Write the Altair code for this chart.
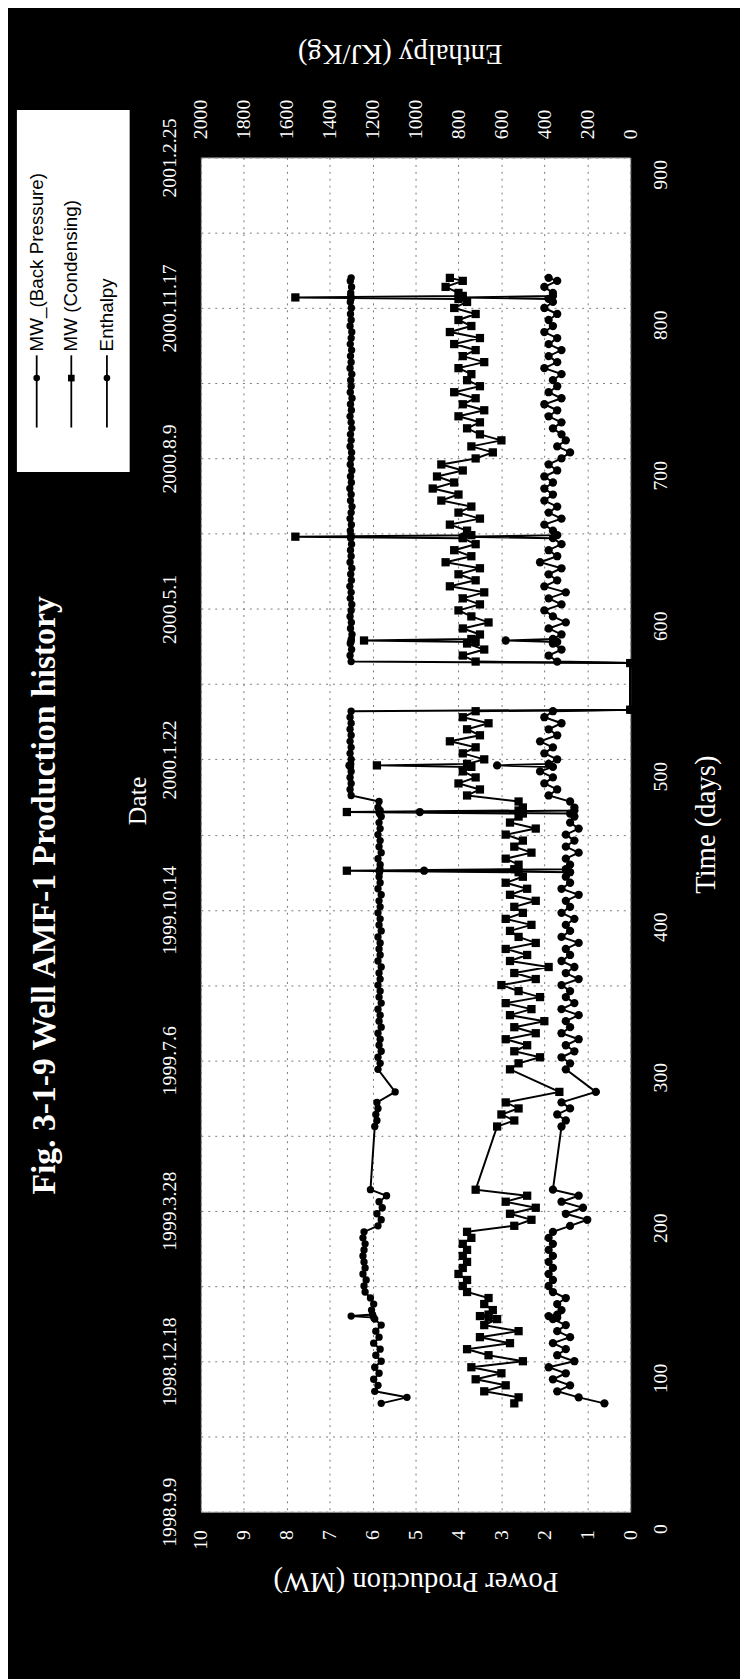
import json
import altair as alt
import pandas as pd

# ---------------- data ----------------
days = [
    72, 76, 80, 84, 88, 92, 96, 100, 104, 108,
    112, 116, 120, 124, 128, 129, 130, 131, 134, 138, 142, 146,
    150, 154, 158, 162, 166, 170, 174, 178, 182, 186,
    190, 194, 198, 202, 206, 210, 214,
    256, 260, 264, 268, 272, 279, 294, 298, 302, 306,
    310, 314, 318, 322, 326, 330, 334, 338, 342, 346,
    350, 354, 358, 362, 366, 370, 374, 378, 382, 386,
    390, 394, 398, 402, 406, 410, 414, 418, 422, 425, 426, 427,
    430, 434, 438, 442, 446, 450, 454, 458, 462, 464, 465, 466,
    468, 472, 476, 480, 484, 488, 492, 495, 496, 497, 500, 504,
    508, 512, 516, 520, 524, 528, 532,
    533, 564,
    565, 569, 573, 577, 578, 579, 580, 583, 587, 591, 595, 599,
    603, 607, 611, 615, 619, 623, 627, 631, 635, 639,
    643, 647, 648, 649, 652, 656, 660, 664, 668, 672, 676, 680,
    684, 688, 692, 696, 700, 704, 708, 712, 716, 720,
    724, 728, 732, 736, 740, 744, 748, 752, 756, 760,
    764, 768, 772, 776, 780, 784, 788, 792, 796, 800,
    804, 806, 807, 808, 810, 814, 818, 820,
]

mw_back = [
    0.6, 1.2, 1.7, 1.4, 1.8, 1.5, 1.9, 1.3, 1.7, 1.5,
    1.8, 1.4, 1.7, 1.5, 1.8, 1.7, 1.9, 1.7, 1.6, 1.7, 1.5, 1.8,
    1.9, 1.8, 1.9, 1.8, 1.9, 1.8, 1.9, 1.8, 1.9, 1.8,
    1.4, 1.0, 1.5, 1.1, 1.6, 1.2, 1.8,
    1.6, 1.5, 1.7, 1.4, 1.6, 0.8, 1.5, 1.4, 1.6, 1.3,
    1.5, 1.2, 1.6, 1.4, 1.5, 1.2, 1.6, 1.3, 1.5, 1.4,
    1.6, 1.2, 1.5, 1.3, 1.6, 1.4, 1.5, 1.2, 1.6, 1.4,
    1.5, 1.3, 1.6, 1.4, 1.5, 1.2, 1.6, 1.4, 1.5, 1.4, 4.8, 1.5,
    1.4, 1.5, 1.2, 1.5, 1.3, 1.5, 1.2, 1.4, 1.3, 1.4, 4.9, 1.3,
    1.3, 1.4, 1.9, 1.7, 2.0, 1.8, 2.1, 1.8, 3.1, 1.9, 1.7, 2.0,
    1.8, 2.1, 1.7, 1.9, 1.6, 2.0, 1.8,
    0.0, 0.0,
    1.7, 1.9, 1.6, 1.8, 1.7, 2.9, 1.8, 1.6, 1.9, 1.5, 1.8, 2.0,
    1.6, 1.9, 1.5, 2.0, 1.7, 1.9, 1.6, 2.1, 1.7, 1.9,
    1.6, 1.8, 3.9, 1.7, 1.8, 2.0, 1.6, 1.9, 1.7, 2.0, 1.8, 2.0,
    1.8, 2.0, 1.7, 1.9, 1.6, 1.4, 1.7, 1.5, 1.6, 1.8,
    1.6, 1.9, 1.7, 2.0, 1.6, 1.9, 1.7, 1.8, 1.6, 2.0,
    1.7, 1.9, 1.6, 1.9, 1.7, 2.0, 1.8, 1.9, 1.7, 2.0,
    1.8, 1.9, 3.9, 1.8, 1.8, 2.0, 1.7, 1.9,
]

mw_cond = [
    2.7, 2.6, 3.4, 2.9, 3.6, 3.0, 3.7, 2.5, 3.3, 3.8,
    2.8, 3.5, 2.6, 3.4, 3.1, 3.3, 3.5, 3.3, 3.2, 3.4, 3.3, 3.8,
    3.9, 3.8, 4.0, 3.9, 3.8, 3.9, 3.8, 3.9, 3.7, 3.8,
    2.7, 2.3, 2.8, 2.2, 2.9, 2.4, 3.6,
    3.1, 2.7, 3.0, 2.6, 2.9, 1.65, 2.8, 2.6, 2.1, 2.7,
    2.4, 2.9, 2.2, 2.7, 2.0, 2.8, 2.3, 2.9, 2.1, 2.6,
    3.0, 2.2, 2.7, 1.9, 2.8, 2.4, 2.9, 2.2, 2.6, 2.8,
    2.3, 2.9, 2.5, 2.7, 2.2, 2.8, 2.4, 2.9, 2.5, 2.6, 6.6, 2.7,
    2.6, 2.9, 2.3, 2.7, 2.5, 2.9, 2.2, 2.8, 2.6, 2.5, 6.6, 2.6,
    2.5, 2.6, 3.8, 3.5, 4.0, 3.6, 3.9, 3.7, 5.9, 3.8, 3.4, 3.9,
    3.6, 4.2, 3.5, 3.8, 3.3, 3.9, 3.6,
    0.0, 0.0,
    3.6, 3.9, 3.4, 3.8, 3.6, 6.2, 3.7, 3.5, 3.9, 3.3, 3.7, 4.0,
    3.5, 3.9, 3.4, 4.2, 3.6, 4.0, 3.5, 4.3, 3.7, 4.1,
    3.6, 3.9, 7.8, 3.7, 3.8, 4.2, 3.5, 4.0, 3.7, 4.4, 4.0, 4.6,
    4.1, 4.5, 3.9, 4.4, 3.6, 3.2, 3.7, 3.0, 3.5, 3.8,
    3.5, 4.0, 3.4, 3.9, 3.6, 4.1, 3.5, 3.8, 3.7, 4.0,
    3.4, 3.9, 3.6, 4.1, 3.5, 4.2, 3.7, 4.0, 3.6, 4.1,
    3.8, 4.0, 7.8, 3.9, 4.0, 4.3, 3.9, 4.2,
]

enthalpy = [
    1160, 1040, 1190, 1175, 1195, 1170, 1190, 1160, 1185, 1165,
    1195, 1170, 1185, 1160, 1190, 1195, 1300, 1200, 1205, 1195, 1210, 1235,
    1240, 1230, 1245, 1235, 1240, 1245, 1240, 1235, 1245, 1240,
    1175, 1160, 1180, 1155, 1170, 1135, 1210,
    1190, 1180, 1185, 1175, 1180, 1095, 1175, 1165, 1175, 1160,
    1170, 1165, 1175, 1160, 1170, 1165, 1175, 1160, 1170, 1165,
    1175, 1165, 1170, 1160, 1175, 1165, 1170, 1165, 1175, 1160,
    1170, 1165, 1175, 1165, 1170, 1160, 1175, 1165, 1170, 1168, 1170, 1166,
    1165, 1175, 1160, 1170, 1165, 1175, 1165, 1170, 1160, 1168, 1170, 1165,
    1175, 1170, 1300, 1305, 1300, 1305, 1300, 1303, 1310, 1302, 1300, 1305,
    1300, 1305, 1300, 1305, 1300, 1305, 1300,
    0, 0,
    1300, 1305, 1298, 1304, 1301, 1300, 1299, 1296, 1303, 1299, 1305, 1300,
    1297, 1304, 1300, 1306, 1299, 1302, 1297, 1305, 1300, 1303,
    1298, 1302, 1300, 1301, 1304, 1299, 1305, 1300, 1296, 1303, 1300, 1306,
    1299, 1303, 1297, 1304, 1300, 1298, 1305, 1300, 1303, 1297,
    1300, 1305, 1299, 1303, 1296, 1304, 1300, 1302, 1297, 1305,
    1300, 1303, 1298, 1304, 1300, 1297, 1305, 1300, 1303, 1299,
    1304, 1301, 1300, 1302, 1302, 1298, 1304, 1300,
]

date_labels = ["1998.9.9", "1998.12.18", "1999.3.28", "1999.7.6", "1999.10.14",
               "2000.1.22", "2000.5.1", "2000.8.9", "2000.11.17", "2001.2.25"]
date_ticks = [0, 100, 200, 300, 400, 500, 600, 700, 800, 900]
day_grid = [0, 50, 100, 150, 200, 250, 300, 350, 400, 450,
            500, 550, 600, 650, 700, 750, 800, 850, 900]
mw_ticks = [0, 1, 2, 3, 4, 5, 6, 7, 8, 9, 10]
enth_ticks = [0, 200, 400, 600, 800, 1000, 1200, 1400, 1600, 1800, 2000]
series_names = ["MW_(Back Pressure)", "MW (Condensing)", "Enthalpy"]
chart_title = "Fig. 3-1-9 Well AMF-1 Production history"

for name, arr in [("mw_back", mw_back), ("mw_cond", mw_cond), ("enthalpy", enthalpy)]:
    if len(arr) != len(days):
        raise ValueError(f"{name} has {len(arr)} values, days has {len(days)}")

# ---------------- layout ----------------
W, H = 434, 1369
SERIF = "Liberation Serif"
SANS = "Liberation Sans"

mw_df = pd.DataFrame({
    "day": days + days,
    "mw": mw_back + mw_cond,
    "series": [series_names[0]] * len(days) + [series_names[1]] * len(days),
})
en_df = pd.DataFrame({"day": days, "enthalpy": enthalpy})

x_mw = alt.X(
    "mw:Q",
    scale=alt.Scale(domain=[0, 10], reverse=True, nice=False, zero=False),
    axis=alt.Axis(orient="bottom", values=mw_ticks, grid=True, title="Power Production (MW)",
                  labelAngle=270, labelAlign="right", labelBaseline="middle", labelPadding=18,
                  titleAngle=180, titleX=W / 2, titleY=70, titleAlign="center",
                  titleBaseline="middle"),
)
y_time = alt.Y(
    "day:Q",
    scale=alt.Scale(domain=[0, 900], nice=False, zero=False),
    axis=alt.Axis(orient="right", values=day_grid, grid=True, title="Time (days)",
                  labelExpr="datum.value % 100 == 0 ? datum.label : ''",
                  labelAngle=270, labelAlign="center", labelBaseline="middle",
                  labelPadding=31, labelOffset=17,
                  titleAngle=270, titleX=76, titleY=674, titleAlign="center",
                  titleBaseline="middle"),
)
x_en = alt.X(
    "enthalpy:Q",
    scale=alt.Scale(domain=[0, 2000], reverse=True, nice=False, zero=False),
    axis=alt.Axis(orient="top", values=enth_ticks, grid=False, title="Enthalpy (KJ/Kg)",
                  format="d",
                  labelAngle=270, labelAlign="left", labelBaseline="middle", labelPadding=19,
                  titleAngle=180, titleX=201, titleY=-105, titleAlign="center",
                  titleBaseline="middle"),
)
date_expr = ("datum.value % 100 == 0 ? " + json.dumps(date_labels)
             + "[round(datum.value / 100)] : ''")
y_date = alt.Y(
    "day:Q",
    scale=alt.Scale(domain=[0, 900], nice=False, zero=False),
    axis=alt.Axis(orient="left", values=date_ticks, grid=False, title="Date",
                  labelExpr=date_expr, labelAngle=270, labelAlign="center",
                  labelBaseline="middle", labelPadding=32,
                  titleAngle=270, titleX=-64, titleY=650, titleAlign="center",
                  titleBaseline="middle", titleFontSize=26),
)

mw_line = alt.Chart(mw_df).mark_line(color="black", strokeWidth=2).encode(
    x=x_mw, y=y_time, detail="series:N", order="day:Q")
mw_pts = alt.Chart(mw_df).mark_point(filled=True, color="black", size=70, opacity=1).encode(
    x=x_mw, y=y_time,
    shape=alt.Shape("series:N", scale=alt.Scale(domain=series_names[:2],
                                                 range=["circle", "square"]), legend=None))
mw_layer = alt.layer(mw_line, mw_pts)

en_line = alt.Chart(en_df).mark_line(color="black", strokeWidth=2).encode(
    x=x_en, y=y_date, order="day:Q")
en_pts = alt.Chart(en_df).mark_point(filled=True, color="black", size=55, opacity=1,
                                     shape="circle").encode(x=x_en, y=y_date)
en_layer = alt.layer(en_line, en_pts)

# title (rotated with the figure)
title_mark = alt.Chart(pd.DataFrame({"t": [chart_title]})).mark_text(
    angle=270, font=SERIF, fontSize=34, fontWeight="bold", color="white",
    align="center", baseline="middle").encode(
    text="t:N", x=alt.value(-157), y=alt.value(746))

# legend box and entries (rotated with the figure)
legend_box = alt.Chart(pd.DataFrame({"t": ["box"]})).mark_rect(color="white").encode(
    x=alt.value(-186), x2=alt.value(-72), y=alt.value(-48), y2=alt.value(318))

legend_layers = []
legend_x = [-166, -131, -95]
legend_shapes = ["circle", "square", "circle"]
for lab, lx, shp in zip(series_names, legend_x, legend_shapes):
    d = pd.DataFrame({"t": [lab]})
    legend_layers.append(alt.Chart(d).mark_rule(color="black", strokeWidth=1.8).encode(
        x=alt.value(lx), y=alt.value(200), y2=alt.value(273)))
    legend_layers.append(alt.Chart(d).mark_point(filled=True, color="black", size=45,
                                                 opacity=1, shape=shp).encode(
        x=alt.value(lx), y=alt.value(223)))
    legend_layers.append(alt.Chart(d).mark_text(
        angle=270, font=SANS, fontSize=19, color="black", align="left",
        baseline="middle").encode(text="t:N", x=alt.value(lx), y=alt.value(196)))

chart = alt.layer(
    mw_layer, en_layer, title_mark, legend_box, *legend_layers
).resolve_scale(
    x="independent", y="independent"
).properties(
    width=W, height=H, background="black",
    padding={"left": 195, "top": 142, "right": 111, "bottom": 160},
    autosize=alt.AutoSizeParams(type="none"),
).configure_view(
    fill="white", stroke="#aaaaaa", strokeWidth=1,
).configure_axis(
    domain=False, ticks=False, labelColor="white", titleColor="white",
    labelFont=SERIF, titleFont=SERIF, labelFontSize=20, titleFontSize=29,
    titleFontWeight="normal", gridColor="#7a7a7a", gridDash=[2, 5], gridWidth=1,
    labelFlush=False, labelOverlap=False,
)

chart.save("out.html", embed_options={"renderer": "svg", "actions": False})
